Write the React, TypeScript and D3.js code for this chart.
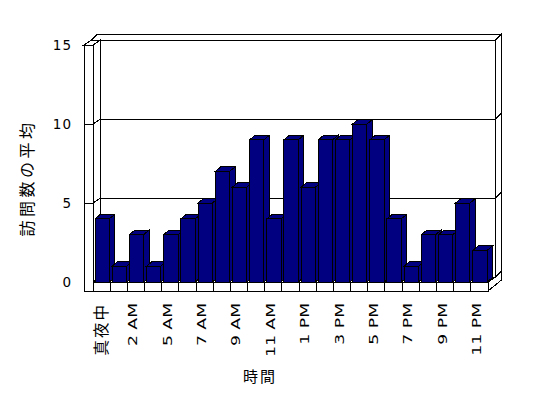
import React, { useEffect, useRef } from "react";
import * as d3 from "d3";

const categories = [
  "真夜中", "1 AM", "2 AM", "4 AM", "5 AM", "6 AM", "7 AM", "8 AM", "9 AM", "10 AM", "11 AM", "12 PM",
  "1 PM", "2 PM", "3 PM", "4 PM", "5 PM", "6 PM", "7 PM", "8 PM", "9 PM", "10 PM", "11 PM",
];
const visits = [4, 1, 3, 1, 3, 4, 5, 7, 6, 9, 4, 9, 6, 9, 9, 10, 9, 4, 1, 3, 3, 5, 2];
const yTicks = [0, 5, 10, 15];
const gridValues = [5, 10];
const xTitle = "時間";
const yTitle = "訪問数の平均";

const W = 548;
const H = 398;
const NAVY = "#000080";
const LATIN = "'DejaVu Sans', sans-serif";
const CJK = "'Noto Sans CJK JP', sans-serif";

const isCjk = (s: string) => /[^\x00-\x7f]/.test(s);

export default function App() {
  const svgRef = useRef(null);

  useEffect(() => {
    const svg = d3.select(svgRef.current);
    svg.selectAll("*").remove();

    // front plane of the plot, depth offset of walls, wall thickness
    const x = d3.scaleBand().domain(categories).range([93, 488]);
    const y = d3.scaleLinear().domain([0, 15]).range([282, 45]);
    const dx = 7.5, dy = -5;
    const tx = 6, ty = -6;
    const outerX = 84;
    const floorBottom = 291;

    const left = x.range()[0];
    const right = x.range()[1];
    const top = y(15);
    const base = y(0);

    const poly = (pts: number[][]) => pts.map((p) => p.join(",")).join(" ");
    const g = svg.append("g").attr("stroke", "#000").attr("stroke-width", 1).attr("fill", "#fff");

    // back wall face
    g.append("polygon").attr("points", poly([
      [left + dx, top + dy], [right + dx, top + dy], [right + dx, base + dy], [left + dx, base + dy],
    ]));
    // back wall top thickness
    g.append("polygon").attr("points", poly([
      [outerX + dx, top + dy], [right + dx, top + dy], [right + dx + tx, top + dy + ty], [outerX + dx + tx, top + dy + ty],
    ]));
    // back wall right thickness
    g.append("polygon").attr("points", poly([
      [right + dx, top + dy], [right + dx + tx, top + dy + ty], [right + dx + tx, base + dy + ty], [right + dx, base + dy],
    ]));
    // left wall inner face
    g.append("polygon").attr("points", poly([
      [left, top], [left + dx, top + dy], [left + dx, base + dy], [left, base],
    ]));
    // left wall top
    g.append("polygon").attr("points", poly([
      [outerX, top], [left, top], [left + dx, top + dy], [outerX + dx, top + dy],
    ]));
    // floor top
    g.append("polygon").attr("points", poly([
      [left, base], [right, base], [right + dx, base + dy], [left + dx, base + dy],
    ]));
    // floor right side
    g.append("polygon").attr("points", poly([
      [right, base], [right + dx, base + dy], [right + dx + tx, base + dy + ty],
      [right + dx + tx, floorBottom + dy + ty], [right, floorBottom],
    ]));
    // front L of left wall + floor
    g.append("polygon").attr("points", poly([
      [outerX, top], [left, top], [left, base], [right, base], [right, floorBottom], [outerX, floorBottom],
    ]));

    // gridlines
    const grid = svg.append("g").attr("stroke", "#000").attr("fill", "none");
    gridValues.forEach((v) => {
      const yy = y(v);
      grid.append("polyline").attr("points", poly([
        [outerX, yy], [left, yy], [left + dx, yy + dy], [right + dx, yy + dy], [right + dx + tx, yy + dy + ty],
      ]));
    });

    // floor tick boxes
    svg.append("g").selectAll("line")
      .data(d3.range(categories.length + 1))
      .enter()
      .append("line")
      .attr("x1", (i) => left + i * x.step())
      .attr("x2", (i) => left + i * x.step())
      .attr("y1", base)
      .attr("y2", floorBottom)
      .attr("stroke", "#000");

    // bars
    const bw = x.bandwidth() * 0.835;
    const bdx = 5.5, bdy = -4.5;
    const bars = svg.append("g").attr("fill", NAVY).attr("stroke", "#000");
    categories.forEach((c, i) => {
      const x0 = (x(c) as number) + 2;
      const x1 = x0 + bw;
      const yt = y(visits[i]);
      const bar = bars.append("g");
      bar.append("polygon").attr("points", poly([[x1, base], [x1, yt], [x1 + bdx, yt + bdy], [x1 + bdx, base + bdy]]));
      bar.append("polygon").attr("points", poly([[x0, yt], [x1, yt], [x1 + bdx, yt + bdy], [x0 + bdx, yt + bdy]]));
      bar.append("rect").attr("x", x0).attr("y", yt).attr("width", bw).attr("height", base - yt);
    });

    // value labels
    svg.append("g").selectAll("text")
      .data(yTicks)
      .enter()
      .append("text")
      .attr("x", 72)
      .attr("y", (d) => y(d))
      .attr("text-anchor", "end")
      .attr("dominant-baseline", "central")
      .style("font-family", LATIN)
      .style("font-size", "13.5px")
      .style("letter-spacing", "1px")
      .text((d) => d);

    // category labels, every other one
    svg.append("g").selectAll("text")
      .data(categories.filter((_, i) => i % 2 === 0))
      .enter()
      .append("text")
      .attr("transform", (d) => {
        const cx = (x(d) as number) + x.bandwidth() / 2;
        return isCjk(d)
          ? `translate(${cx + 5},303) rotate(-90)`
          : `translate(${cx + 1.5},303) rotate(-90) scale(1.5,1)`;
      })
      .attr("text-anchor", "end")
      .style("font-family", (d) => (isCjk(d) ? CJK : LATIN))
      .style("font-size", (d) => (isCjk(d) ? "15.5px" : "11.5px"))
      .style("letter-spacing", (d) => (isCjk(d) ? "2px" : "0px"))
      .text((d) => d);

    svg.append("text")
      .attr("x", 260)
      .attr("y", 375)
      .attr("text-anchor", "middle")
      .attr("dominant-baseline", "central")
      .style("font-family", CJK)
      .style("font-size", "15px")
      .style("letter-spacing", "2px")
      .text(xTitle);

    svg.append("text")
      .attr("transform", "translate(26,178) rotate(-90)")
      .attr("text-anchor", "middle")
      .attr("dominant-baseline", "central")
      .style("font-family", CJK)
      .style("font-size", "16px")
      .style("letter-spacing", "3.5px")
      .text(yTitle);
  }, []);

  return (
    <div style={{ position: "fixed", left: 0, top: 0, width: W, height: H, background: "#fff" }}>
      <svg ref={svgRef} width={W} height={H} shapeRendering="crispEdges" />
    </div>
  );
}
